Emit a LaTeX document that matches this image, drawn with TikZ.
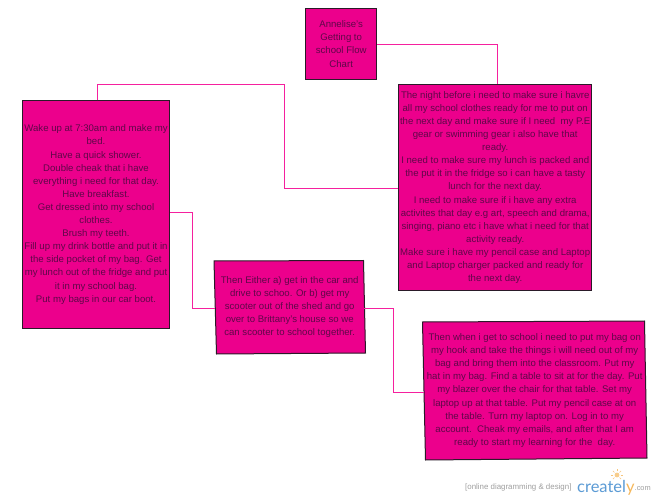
\documentclass[tikz,border=0pt]{standalone}
\usepackage{fontspec}
\setmainfont{Liberation Sans}
\newfontfamily\logofont{Lato}
\definecolor{boxpink}{HTML}{EC008C}
\definecolor{boxedge}{HTML}{2A1A28}
\definecolor{linkpink}{HTML}{F5209E}
\definecolor{boxtext}{HTML}{5E0848}
\definecolor{logoblue}{HTML}{5B9BD5}
\definecolor{logoorange}{HTML}{F5B75A}
\tikzset{
  x=1pt,y=-1pt,
  boxshape/.style={fill=boxpink,draw=boxedge,line width=1pt},
  flowtext/.style={align=center,text=boxtext,font=\fontsize{9.6}{13.1}\selectfont,inner sep=0pt},
  flowbox/.style={boxshape,flowtext},
  link/.style={draw=linkpink,line width=0.9pt},
}
\begin{document}
\begin{tikzpicture}
\useasboundingbox (0,0) rectangle (670,500);
\fill[white] (0,0) rectangle (670,500);
% skewed outlines
\draw[boxshape] (214,261) -- (363.5,260.5) -- (365.5,353) -- (216.5,354) -- cycle;
\draw[boxshape] (422.5,322) -- (644.5,321) -- (647,458) -- (425.5,460) -- cycle;
% boxes
\node[flowbox,minimum width=71.5pt,minimum height=71pt] (title) at (341.2,44) {Annelise's\\Getting to\\school Flow\\Chart};
\node[flowbox,minimum width=193.5pt,minimum height=205pt] (night) at (495.2,187.5) {The night before i need to make sure i havre\\all my school clothes ready for me to put on\\the next day and make sure if I need\ \ my P.E\\gear or swimming gear i also have that\\ready.\\I need to make sure my lunch is packed and\\the put it in the fridge so i can have a tasty\\lunch for the next day.\\I need to make sure if i have any extra\\activites that day e.g art, speech and drama,\\singing, piano etc i have what i need for that\\activity ready.\\Make sure i have my pencil case and Laptop\\and Laptop charger packed and ready for\\the next day.};
\node[flowbox,minimum width=147pt,minimum height=227pt] (wake) at (96,214.5) {Wake up at 7:30am and make my\\bed.\\Have a quick shower.\\Double cheak that i have\\everything i need for that day.\\Have breakfast.\\Get dressed into my school\\clothes.\\Brush my teeth.\\Fill up my drink bottle and put it in\\the side pocket of my bag. Get\\my lunch out of the fridge and put\\it in my school bag.\\Put my bags in our car boot.};
\node[flowtext,minimum width=149pt,minimum height=93pt] (either) at (289.7,306.8) {Then Either a) get in the car and\\drive to schoo. Or b) get my\\scooter out of the shed and go\\over to Brittany's house so we\\can scooter to school together.};
\node[flowtext,minimum width=222pt,minimum height=138pt] (school) at (534.7,390.5) {Then when i get to school i need to put my bag on\\my hook and take the things i will need out of my\\bag and bring them into the classroom. Put my\\hat in my bag. Find a table to sit at for the day. Put\\my blazer over the chair for that table. Set my\\laptop up at that table. Put my pencil case at on\\the table. Turn my laptop on. Log in to my\\account.\ \ Cheak my emails, and after that I am\\ready to start my learning for the\ \ day.};
% connectors
\draw[link] (title.east) -| ([xshift=2.5pt]night.north);
\draw[link] ([xshift=1.5pt]wake.north) -- ++(0,-16.5) -| (284,188) -- (night.west |- 0,188);
\draw[link] ([yshift=2pt]wake.east) -| (192.5,308.5) -- (either.west |- 0,308.5);
\draw[link] (either.east |- 0,308) -| (393.7,392) -- (school.west |- 0,392);
% logo
\node[inner sep=0pt,anchor=west,text=gray!75,font=\fontsize{7.9}{9}\selectfont] (tag) at (465,487.5) {[online diagramming \& design]};
\node[inner sep=0pt,anchor=base west,text=logoblue,font=\logofont\fontsize{16.5}{18}\selectfont] (brand) at (577,492.5) {createl\textcolor{logoorange}{y}};
\node[inner sep=0pt,anchor=west,text=gray!75,font=\fontsize{7.4}{9}\selectfont] (dotcom) at (634.5,488.5) {.com};
\fill[logoorange!70] (617,475) circle (2.4);
\foreach \a in {0,45,135,180,225,315,270}
  \draw[logoorange!80,line width=0.6pt] (617,475) ++(\a:3.6) -- ++(\a:2.2);
\end{tikzpicture}
\end{document}
